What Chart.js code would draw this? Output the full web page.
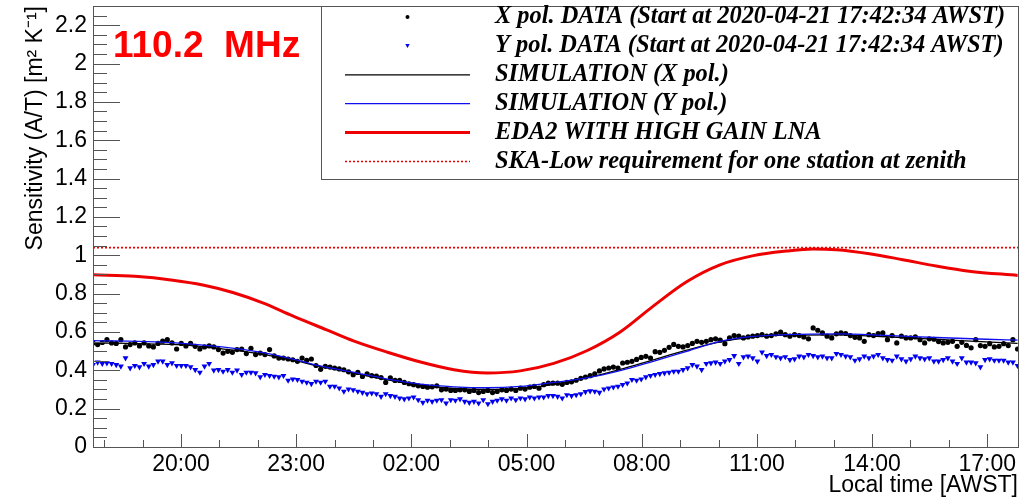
<!DOCTYPE html>
<html><head><meta charset="utf-8">
<script src="https://cdn.jsdelivr.net/npm/chart.js@4/dist/chart.umd.min.js"></script>
<style>html,body{margin:0;padding:0;background:#fff;}</style>
</head><body>
<canvas id="c" width="1029" height="502"></canvas>
<script>
// ---------- DATA ----------
const panelLabel = '110.2  MHz';
const dataStartHour = 17 + 42/60 + 34/3600;   // 2020-04-21 17:42:34 AWST
const sampleStepHour = 0.121;                 // sampling cadence (~7.3 min)
const xAxisMin = dataStartHour;
const xAxisMax = 41.8;

const xPolData = [
0.543,0.534,0.545,0.560,0.543,0.540,0.560,0.522,0.534,0.543,
0.527,0.543,0.527,0.522,0.540,0.552,0.560,0.543,0.511,0.540,
0.527,0.540,0.525,0.511,0.522,0.527,0.522,0.508,0.490,0.499,
0.494,0.508,0.511,0.487,0.515,0.482,0.490,0.482,0.508,0.475,
0.464,0.464,0.459,0.455,0.447,0.464,0.452,0.459,0.425,0.405,
0.421,0.417,0.412,0.407,0.403,0.392,0.377,0.389,0.368,0.382,
0.372,0.370,0.362,0.337,0.360,0.347,0.347,0.337,0.330,0.325,
0.319,0.316,0.312,0.314,0.319,0.298,0.302,0.295,0.295,0.298,
0.298,0.290,0.295,0.284,0.290,0.295,0.284,0.290,0.298,0.295,
0.302,0.295,0.307,0.302,0.312,0.316,0.307,0.325,0.333,0.333,
0.333,0.327,0.337,0.340,0.348,0.358,0.365,0.372,0.382,0.397,
0.407,0.412,0.417,0.412,0.438,0.442,0.447,0.457,0.467,0.473,
0.464,0.497,0.494,0.504,0.520,0.535,0.525,0.522,0.529,0.540,
0.551,0.546,0.551,0.560,0.564,0.557,0.539,0.569,0.581,0.578,
0.569,0.574,0.578,0.581,0.586,0.578,0.581,0.590,0.599,0.586,
0.578,0.586,0.581,0.574,0.564,0.621,0.609,0.595,0.578,0.569,
0.590,0.595,0.592,0.581,0.572,0.569,0.551,0.586,0.581,0.592,
0.595,0.560,0.581,0.543,0.578,0.569,0.569,0.574,0.560,0.543,
0.564,0.562,0.550,0.543,0.546,0.551,0.525,0.546,0.530,0.517,
0.560,0.529,0.525,0.539,0.522,0.525,0.539,0.529,0.560,0.511
];

const yPolData = [
0.429,0.442,0.435,0.438,0.435,0.429,0.421,0.464,0.412,0.424,
0.417,0.435,0.421,0.429,0.447,0.447,0.429,0.438,0.424,0.424,
0.424,0.417,0.403,0.389,0.421,0.435,0.400,0.403,0.394,0.403,
0.389,0.400,0.377,0.389,0.389,0.386,0.365,0.377,0.372,0.368,
0.365,0.372,0.347,0.354,0.351,0.342,0.337,0.330,0.342,0.337,
0.342,0.316,0.316,0.307,0.290,0.302,0.298,0.290,0.284,0.277,
0.281,0.277,0.263,0.277,0.267,0.263,0.255,0.250,0.255,0.260,
0.246,0.232,0.243,0.237,0.243,0.246,0.229,0.246,0.243,0.250,
0.237,0.232,0.237,0.229,0.246,0.225,0.237,0.243,0.250,0.243,
0.255,0.246,0.255,0.250,0.260,0.255,0.260,0.260,0.267,0.267,
0.263,0.255,0.272,0.267,0.272,0.277,0.288,0.292,0.290,0.284,
0.302,0.307,0.312,0.316,0.325,0.333,0.351,0.347,0.354,0.365,
0.372,0.377,0.382,0.386,0.389,0.394,0.394,0.403,0.412,0.429,
0.421,0.403,0.435,0.438,0.442,0.435,0.447,0.455,0.476,0.435,
0.469,0.473,0.464,0.447,0.494,0.476,0.482,0.470,0.464,0.470,
0.455,0.459,0.473,0.469,0.482,0.476,0.469,0.473,0.464,0.464,
0.487,0.482,0.473,0.469,0.452,0.459,0.473,0.464,0.473,0.482,
0.464,0.455,0.452,0.473,0.459,0.447,0.459,0.473,0.464,0.459,
0.464,0.447,0.447,0.455,0.464,0.447,0.435,0.464,0.442,0.442,
0.438,0.417,0.455,0.459,0.452,0.452,0.452,0.442,0.442,0.424
];

const simHours = [17.72,19.34,20.21,21.07,21.94,22.81,23.68,24.51,25.38,26.24,27.11,27.98,28.84,29.71,30.57,31.44,32.30,33.17,34.04,34.91,35.77,37.07,38.37,39.67,40.97,41.79];
const simXValues = [0.543,0.537,0.530,0.512,0.490,0.458,0.418,0.385,0.350,0.322,0.305,0.300,0.305,0.327,0.360,0.405,0.455,0.505,0.548,0.573,0.583,0.585,0.575,0.562,0.548,0.540];
const simYValues = [0.555,0.548,0.538,0.522,0.499,0.464,0.420,0.389,0.354,0.328,0.314,0.309,0.316,0.337,0.360,0.398,0.447,0.499,0.551,0.577,0.586,0.590,0.582,0.571,0.562,0.557];

const eda2Hours = [17.72,18.80,19.79,20.57,21.35,22.13,22.91,23.78,24.51,25.38,26.24,27.11,27.98,28.84,29.71,30.57,31.44,32.30,33.17,34.04,34.91,35.77,36.46,37.07,37.93,38.80,39.67,40.53,41.79];
const eda2Values = [0.898,0.890,0.870,0.845,0.806,0.752,0.684,0.612,0.552,0.494,0.443,0.403,0.386,0.397,0.436,0.502,0.600,0.735,0.862,0.950,0.998,1.022,1.033,1.029,1.008,0.977,0.944,0.917,0.895];

const skaHours = [xAxisMin, xAxisMax];
const skaValues = [1.04, 1.04];

const xTickHours = [20,23,26,29,32,35,38,41];
const xTickLabels = ['20:00','23:00','02:00','05:00','08:00','11:00','14:00','17:00'];
const yTickValues = [0,0.2,0.4,0.6,0.8,1,1.2,1.4,1.6,1.8,2,2.2];
const yTickLabels = ['0','0.2','0.4','0.6','0.8','1','1.2','1.4','1.6','1.8','2','2.2'];

const seriesLabels = [
  'X pol. DATA (Start at 2020-04-21 17:42:34 AWST)',
  'Y pol. DATA (Start at 2020-04-21 17:42:34 AWST)',
  'SIMULATION (X pol.)',
  'SIMULATION (Y pol.)',
  'EDA2 WITH HIGH GAIN LNA',
  'SKA-Low requirement for one station at zenith'
];

// ---------- BUILD ----------
const pts = (xs, ys) => ys.map((v,i)=>({x: xs[i], y: v}));
const sampled = ys => ys.map((v,i)=>({x: dataStartHour + i*sampleStepHour, y: v}));

const datasets = [
  {label: seriesLabels[0], data: sampled(xPolData), showLine: false, pointStyle: 'circle',
   pointRadius: 2.6, pointBackgroundColor: '#000', pointBorderWidth: 0, borderColor:'#000', order: 6, _kind:'dot'},
  {label: seriesLabels[1], data: sampled(yPolData), showLine: false, pointStyle: 'triangle', pointRotation: 180,
   pointRadius: 3.4, pointBackgroundColor: '#0000ee', pointBorderWidth: 0, borderColor:'#0000ee', order: 5, _kind:'tri'},
  {label: seriesLabels[2], data: pts(simHours, simXValues), showLine: true, borderColor: '#000', borderWidth: 1.3,
   pointRadius: 0, cubicInterpolationMode: 'monotone', order: 4, _kind:'line'},
  {label: seriesLabels[3], data: pts(simHours, simYValues), showLine: true, borderColor: '#1010ee', borderWidth: 1.3,
   pointRadius: 0, cubicInterpolationMode: 'monotone', order: 3, _kind:'line'},
  {label: seriesLabels[4], data: pts(eda2Hours, eda2Values), showLine: true, borderColor: '#ee0000', borderWidth: 3,
   pointRadius: 0, cubicInterpolationMode: 'monotone', order: 2, _kind:'line'},
  {label: seriesLabels[5], data: pts(skaHours, skaValues), showLine: true, borderColor: '#ee0000', borderWidth: 1.6,
   borderDash: [2,2], pointRadius: 0, order: 1, _kind:'line'}
];

const frameColor = '#555';

const decorPlugin = {
  id: 'decor',
  afterDatasetsDraw(chart) {
    const {ctx, chartArea: a, scales: {x, y}} = chart;
    ctx.save();
    // frame
    ctx.strokeStyle = frameColor; ctx.lineWidth = 1;
    ctx.strokeRect(Math.round(a.left)+0.5, Math.round(a.top)+0.5, Math.round(a.right-a.left), Math.round(a.bottom-a.top));
    // y ticks (inside)
    ctx.beginPath();
    for (let v = 0; v <= y.max + 1e-9; v += 0.05) {
      const py = Math.round(y.getPixelForValue(v)) + 0.5;
      const major = Math.abs(v/0.2 - Math.round(v/0.2)) < 1e-6;
      ctx.moveTo(a.left, py); ctx.lineTo(a.left + (major ? 27 : 14), py);
    }
    // x ticks (inside)
    for (let h = Math.ceil(x.min); h <= x.max; h += 1) {
      const px = Math.round(x.getPixelForValue(h)) + 0.5;
      const major = ((h - 20) % 3) === 0;
      ctx.moveTo(px, a.bottom); ctx.lineTo(px, a.bottom - (major ? 13 : 7));
    }
    ctx.stroke();

    // panel label
    ctx.fillStyle = '#ff0000';
    ctx.font = 'bold 37px "Liberation Sans", Arial, sans-serif';
    ctx.textBaseline = 'alphabetic'; ctx.textAlign = 'left';
    ctx.fillText(panelLabel, a.left + 20, a.top + 51);

    // legend box
    const lx0 = a.left + 228, ly0 = a.top, lx1 = a.right, ly1 = a.top + 173;
    ctx.fillStyle = '#fff';
    ctx.fillRect(lx0, ly0, lx1-lx0, ly1-ly0);
    ctx.strokeStyle = frameColor;
    ctx.strokeRect(Math.round(lx0)+0.5, Math.round(ly0)+0.5, Math.round(lx1-lx0), Math.round(ly1-ly0));
    ctx.font = 'italic bold 24.4px "Liberation Serif", "Times New Roman", serif';
    ctx.textBaseline = 'middle';
    chart.data.datasets.forEach((ds, k) => {
      const cy = ly0 + 11 + 28.9*k;
      const sx0 = lx0 + 24, sx1 = lx0 + 149, sxm = (sx0+sx1)/2;
      if (ds._kind === 'dot') {
        ctx.fillStyle = ds.pointBackgroundColor;
        ctx.beginPath(); ctx.arc(sxm, cy, 2, 0, Math.PI*2); ctx.fill();
      } else if (ds._kind === 'tri') {
        ctx.fillStyle = ds.pointBackgroundColor;
        ctx.beginPath(); ctx.moveTo(sxm-2.2, cy-1.8); ctx.lineTo(sxm+2.2, cy-1.8); ctx.lineTo(sxm, cy+2.2); ctx.closePath(); ctx.fill();
      } else {
        ctx.strokeStyle = ds.borderColor; ctx.lineWidth = ds.borderWidth;
        ctx.setLineDash(ds.borderDash || []);
        ctx.beginPath(); ctx.moveTo(sx0, cy); ctx.lineTo(sx1, cy); ctx.stroke();
        ctx.setLineDash([]);
      }
      ctx.fillStyle = '#000';
      ctx.fillText(ds.label, lx0 + 174, cy);
    });
    ctx.restore();
  }
};

const tickFont = {family: '"Liberation Sans", Arial, sans-serif', size: 23};

new Chart(document.getElementById('c'), {
  type: 'scatter',
  data: {datasets},
  options: {
    responsive: false, animation: false, devicePixelRatio: 1,
    layout: {padding: {left: 0, right: 11, top: 6, bottom: 0}},
    plugins: {legend: {display: false}, tooltip: {enabled: false}},
    scales: {
      x: {
        type: 'linear', min: xAxisMin, max: xAxisMax,
        grid: {display: false, drawTicks: false}, border: {display: false},
        afterBuildTicks: s => { s.ticks = xTickHours.map(v => ({value: v})); },
        afterFit: s => { s.height = 55; s.paddingLeft = 0; s.paddingRight = 0; },
        ticks: {font: tickFont, color: '#000', padding: 4, autoSkip: false, maxRotation: 0,
                callback: (v, i) => xTickLabels[i]},
        title: {display: true, text: 'Local time [AWST]', align: 'end', color: '#000',
                font: tickFont, padding: {top: 0, bottom: 3}}
      },
      y: {
        type: 'linear', min: 0, max: 2.3,
        grid: {display: false, drawTicks: false}, border: {display: false},
        afterBuildTicks: s => { s.ticks = yTickValues.map(v => ({value: v})); },
        afterFit: s => { s.width = 93; s.paddingTop = 0; s.paddingBottom = 0; },
        ticks: {font: tickFont, color: '#000', padding: 6, autoSkip: false,
                callback: (v, i) => yTickLabels[i]},
        title: {display: true, text: 'Sensitivity (A/T) [m² K⁻¹]', align: 'end', color: '#000',
                font: tickFont, padding: {top: 22, bottom: 0}}
      }
    }
  },
  plugins: [decorPlugin]
});
</script>
</body></html>
